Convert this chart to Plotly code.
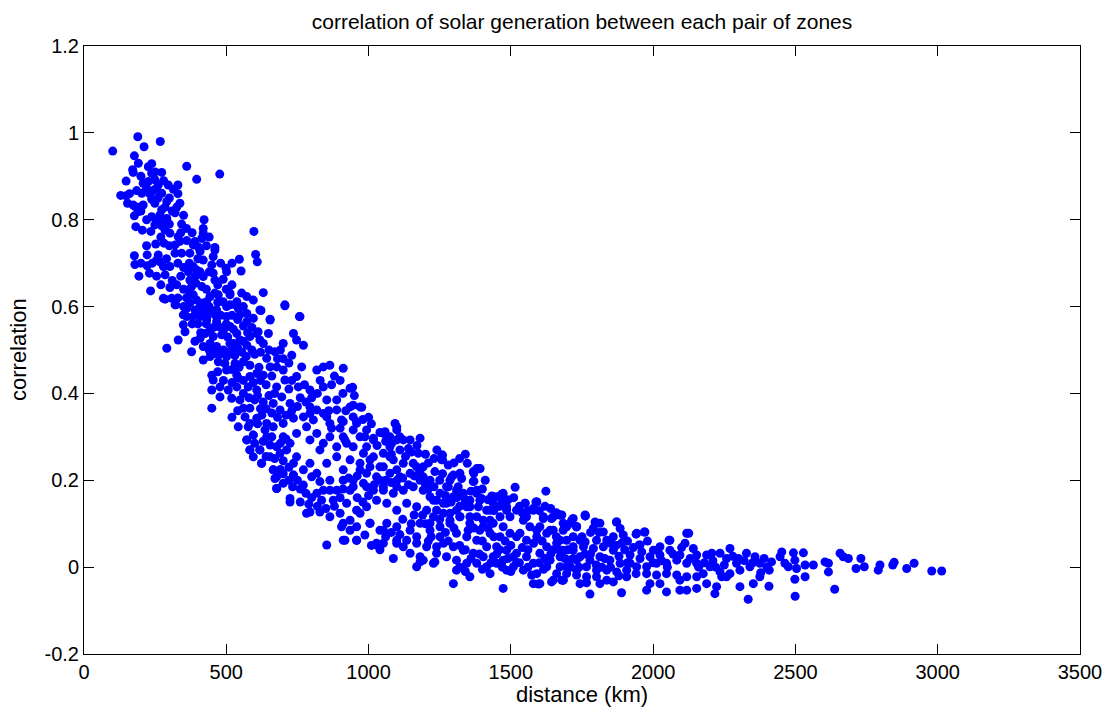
import plotly.graph_objects as go

# ---- data (distance km, correlation) ----
pairs_top_left = [(101,0.958),(189,0.991),(211,0.968),(268,0.980),(177,0.947),(191,0.930),(171,0.915),(173,0.909),(238,0.929),(226,0.922),(361,0.923),(477,0.905),(396,0.893),(148,0.889),(238,0.907),(273,0.909),(208,0.884),(226,0.888),(249,0.892),(261,0.880),(296,0.880),(314,0.870),(185,0.867),(203,0.861),(220,0.872),(244,0.867),(273,0.861),(129,0.856),(148,0.855),(153,0.838),(173,0.834),(197,0.829),(208,0.834),(238,0.847),(249,0.838),(291,0.842),(285,0.829),(273,0.823),(326,0.829),(337,0.838),(320,0.816),(177,0.809),(191,0.819),(238,0.807),(255,0.800),(267,0.811),(291,0.803),(249,0.788),(273,0.786),(343,0.790),(422,0.800),(419,0.780),(419,0.769),(414,0.757),(182,0.784),(205,0.776),(235,0.773),(285,0.776),(302,0.769),(331,0.761),(361,0.752),(384,0.742),(402,0.737),(252,0.744),(281,0.746),(320,0.742),(337,0.750),(460,0.736)]

pairs_top_left_extra = [(230,0.860),(260,0.850),(300,0.850),(310,0.820),(280,0.800),(300,0.790),(350,0.810),(360,0.780),(380,0.770),(340,0.770),(300,0.740),(270,0.760),(220,0.740),(200,0.700),(240,0.700),(290,0.710),(330,0.700),(350,0.690),(340,0.670),(310,0.660),(270,0.650),(350,0.640),(330,0.620),(360,0.620),(350,0.600),(380,0.560),(400,0.560),(410,0.540),(390,0.520),(420,0.590),(440,0.600),(470,0.610),(480,0.580),(500,0.560),(520,0.580),(540,0.570),(430,0.640),(470,0.650),(500,0.640),(520,0.650),(440,0.680),(480,0.700),(520,0.700),(430,0.740),(440,0.760),(400,0.710),(370,0.700),(390,0.750),(200,0.820),(220,0.800),(180,0.830),(160,0.860),(200,0.900),(250,0.910),(280,0.890),(330,0.860),(330,0.880),(250,0.870)]

pairs_upper = [(177,0.717),(179,0.697),(193,0.670),(222,0.719),(222,0.694),(230,0.677),(261,0.719),(267,0.703),(255,0.707),(279,0.692),(302,0.692),(255,0.670),(285,0.673),(234,0.636),(302,0.644),(326,0.650),(285,0.617),(308,0.619),(323,0.604),(320,0.723),(343,0.723),(372,0.723),(408,0.727),(419,0.707),(454,0.715),(460,0.730),(449,0.696),(454,0.677),(460,0.661),(489,0.663),(499,0.688),(501,0.680),(546,0.709),(552,0.682),(597,0.773),(603,0.720),(609,0.703),(367,0.680),(384,0.692),(396,0.684),(408,0.680),(419,0.669),(390,0.669),(372,0.661),(378,0.646),(393,0.654),(414,0.646),(367,0.638),(384,0.627),(396,0.615),(372,0.608),(361,0.596),(361,0.577),(390,0.592),(408,0.600),(431,0.611),(443,0.623),(460,0.631),(472,0.627),(513,0.631),(489,0.611),(513,0.604),(537,0.611),(554,0.631),(572,0.623),(595,0.615),(560,0.600),(542,0.596),(572,0.584),(443,0.592),(460,0.581),(431,0.577),(408,0.577),(630,0.632),(622,0.591),(654,0.571),(706,0.602),(757,0.577),(279,0.619),(320,0.604),(349,0.581),(384,0.577)]

pairs_mid_left = [(419,0.608),(443,0.623),(466,0.592),(513,0.627),(501,0.600),(531,0.604),(396,0.584),(431,0.569),(466,0.565),(501,0.577),(513,0.554),(537,0.538),(548,0.523),(525,0.515),(419,0.508),(443,0.515),(466,0.508),(490,0.500),(291,0.504),(331,0.523),(349,0.558),(355,0.542),(378,0.496),(408,0.527),(425,0.538),(443,0.546),(454,0.531),(472,0.554),(484,0.535),(419,0.477),(443,0.485),(460,0.492),(472,0.473),(495,0.469),(501,0.485),(519,0.500),(513,0.515),(531,0.469),(501,0.454),(449,0.442),(454,0.431),(449,0.408),(478,0.415),(478,0.392),(507,0.408),(519,0.389),(537,0.415),(542,0.435),(537,0.442),(449,0.366),(548,0.385),(560,0.366)]

pairs_mid_extra = [(430,0.560),(455,0.552),(490,0.545),(505,0.530),(525,0.548),(560,0.555),(575,0.540),(590,0.552),(440,0.500),(475,0.490),(505,0.495),(530,0.487),(555,0.495),(570,0.485),(545,0.460),(520,0.455),(470,0.450),(490,0.430),(520,0.425),(560,0.430),(595,0.425),(620,0.430),(615,0.460),(640,0.420),(660,0.440),(680,0.480),(700,0.480),(720,0.470),(690,0.500),(650,0.500),(620,0.495),(600,0.490),(590,0.500),(560,0.520),(540,0.505),(610,0.395),(630,0.380),(650,0.395),(670,0.400),(660,0.355),(640,0.365),(620,0.365),(600,0.385),(580,0.390),(560,0.400),(540,0.360),(520,0.345),(610,0.330),(625,0.350),(680,0.345),(710,0.350),(730,0.360),(750,0.370),(760,0.390),(720,0.410),(730,0.430),(775,0.420),(780,0.380),(800,0.390),(820,0.400),(830,0.430),(870,0.420),(880,0.440),(900,0.430),(860,0.360),(870,0.320),(900,0.320),(920,0.360),(910,0.400),(950,0.395),(980,0.340),(1000,0.345),(1010,0.330),(1040,0.310),(1030,0.280),(1060,0.290),(1080,0.260),(1110,0.270),(1130,0.255),(1150,0.265),(1170,0.280),(1200,0.260),(1210,0.240),(1230,0.250),(1240,0.270),(1280,0.235),(1300,0.240),(1320,0.250),(1340,0.260)]

pairs_mid = [(560,0.473),(583,0.465),(583,0.439),(577,0.415),(607,0.446),(607,0.408),(630,0.442),(654,0.461),(642,0.481),(572,0.511),(583,0.531),(607,0.538),(618,0.523),(548,0.581),(572,0.565),(595,0.573),(612,0.542),(618,0.592),(654,0.569),(648,0.538),(630,0.515),(671,0.496),(700,0.515),(730,0.488),(736,0.538),(747,0.523),(771,0.511),(706,0.604),(759,0.577),(677,0.461),(700,0.454),(706,0.431),(677,0.415),(695,0.392),(665,0.377),(689,0.362),(724,0.377),(747,0.439),(753,0.415),(765,0.461),(583,0.366),(566,0.346),(583,0.331),(607,0.343),(642,0.331),(636,0.316),(665,0.323),(700,0.331),(736,0.343),(771,0.346),(794,0.354),(782,0.323),(747,0.308),(542,0.323),(577,0.323),(595,0.304),(572,0.293),(583,0.270),(595,0.254),(618,0.270),(624,0.239),(642,0.300),(654,0.281),(677,0.277),(700,0.300),(689,0.262),(712,0.270),(724,0.285),(747,0.254),(736,0.239),(665,0.224),(671,0.204),(677,0.181),(700,0.193),(736,0.212),(771,0.224),(794,0.408),(818,0.454),(841,0.461),(864,0.465),(841,0.415),(853,0.385),(888,0.385),(911,0.458),(935,0.412),(794,0.369),(818,0.362),(806,0.339),(841,0.354),(853,0.346),(864,0.331),(888,0.362),(905,0.339),(935,0.369),(946,0.373),(958,0.335),(970,0.369),(794,0.293),(818,0.308),(841,0.285),(829,0.270),(864,0.300),(888,0.277),(911,0.300),(923,0.285),(946,0.316),(970,0.300),(993,0.316),(993,0.277),(1017,0.293),(1052,0.308),(1075,0.277),(1099,0.323),(1099,0.293),(1122,0.293),(794,0.239),(818,0.216),(853,0.239),(864,0.200),(888,0.254),(911,0.224),(935,0.247),(946,0.200),(970,0.239),(993,0.216),(1005,0.247),(1028,0.208),(1052,0.231),(1075,0.254),(1099,0.224),(1122,0.239),(841,0.177),(888,0.177),(935,0.177),(993,0.185),(1052,0.177),(1099,0.185)]

pairs_band_extra = [(600,0.285),(630,0.290),(660,0.300),(690,0.285),(710,0.295),(640,0.255),(670,0.250),(700,0.245),(720,0.230),(690,0.225),(700,0.215),(720,0.200),(750,0.200),(760,0.180),(780,0.170),(800,0.160),(760,0.150),(790,0.145),(820,0.140),(850,0.135),(880,0.140),(900,0.160),(910,0.180),(930,0.205),(960,0.210),(960,0.160),(980,0.150),(1000,0.165),(1020,0.190),(1040,0.200),(1060,0.200),(1080,0.195),(1100,0.200),(1120,0.205),(1140,0.190),(1160,0.210),(1180,0.220),(1200,0.190),(1210,0.180),(1230,0.185),(1250,0.200),(1260,0.215),(1270,0.165),(1290,0.150),(1310,0.160),(1320,0.140),(1340,0.150),(1360,0.175),(1400,0.180),(1410,0.200),(1420,0.155),(1440,0.130),(1460,0.140),(1470,0.150),(1490,0.155),(1510,0.160),(1530,0.140),(1540,0.125),(1560,0.130),(1600,0.130),(1620,0.140),(1640,0.135),(1660,0.125)]

pairs_low_extra = [(1010,0.050),(1040,0.040),(1060,0.070),(1080,0.080),(1110,0.075),(1120,0.110),(1150,0.100),(1160,0.120),(1190,0.120),(1200,0.100),(1210,0.060),(1220,0.070),(1250,0.110),(1270,0.080),(1280,0.060),(1300,0.090),(1320,0.050),(1340,0.040),(1350,0.085),(1370,0.090),(1400,0.060),(1420,0.090),(1440,0.070),(1460,0.040),(1480,0.060),(1500,0.050),(1520,0.070),(1530,0.010),(1560,0.040),(1580,0.055),(1610,0.060),(1620,0.020),(1650,0.040),(1660,0.070),(1700,0.040),(1720,0.020),(1750,0.070),(1780,0.080),(1790,0.090),(1810,0.080),(1830,0.020),(1850,0.055),(1870,0.050),(1880,0.025),(1900,0.040),(1910,0.060),(1930,0.045),(1960,0.035),(1980,0.060),(2000,0.010),(2030,0.015),(2050,0.000),(2070,0.030),(2100,0.045),(2130,0.020),(2160,0.000),(2180,0.010),(2210,0.015),(2220,0.000),(2250,0.005),(2280,0.025),(2300,0.020),(2320,0.015),(2350,0.010),(2390,0.020),(2400,0.000),(1320,0.000),(1340,-0.010),(1360,0.020),(1390,0.030),(1400,-0.005),(1430,0.010),(1450,0.030),(1470,0.000),(1490,0.020),(1500,-0.010),(1520,0.010),(1540,0.045),(1560,0.000),(1600,0.010),(1615,-0.005),(1640,0.030),(1670,0.040),(1690,0.020),(1710,0.000),(1740,0.000),(1760,0.030),(1780,0.030),(1800,0.005),(1820,0.000),(1850,0.000),(1880,-0.020),(1910,0.010),(1940,-0.015)]

pairs_center = [(1181,0.297),(1175,0.262),(1093,0.331),(1099,0.316),(1110,0.300),(1058,0.312),(1146,0.293),(1140,0.273),(1260,0.258),(1260,0.247),(1233,0.220),(1216,0.200),(1192,0.208),(1169,0.231),(1347,0.239),(1380,0.227),(1370,0.216),(1368,0.197),(1327,0.204),(1315,0.185),(1292,0.208),(1280,0.185),(1298,0.162),(1333,0.170),(1356,0.154),(1380,0.170),(1397,0.158),(1386,0.139),(1345,0.139),(1309,0.131),(1274,0.147),(1251,0.170),(1239,0.154),(1216,0.162),(1204,0.131),(1228,0.116),(1263,0.124),(1286,0.108),(1321,0.116),(1356,0.116),(1380,0.116),(1415,0.131),(1438,0.147),(1450,0.162),(1473,0.170),(1485,0.139),(1462,0.116),(1427,0.108),(1403,0.093),(1497,0.116),(1520,0.131),(1550,0.147),(1579,0.131),(1591,0.150),(1555,0.116),(1515,0.184),(1623,0.175),(1614,0.116),(1643,0.112),(1673,0.120),(1684,0.101),(1708,0.101),(1731,0.093),(1761,0.120),(1684,0.085),(1638,0.085),(1591,0.085),(944,0.414),(976,0.368),(946,0.346),(911,0.335),(958,0.331),(1017,0.297),(987,0.300),(1075,0.300),(1081,0.285),(917,0.293),(946,0.277),(982,0.262),(1017,0.254),(1052,0.262),(1087,0.247),(1157,0.239),(1192,0.231),(970,0.224),(1005,0.231),(1040,0.231),(1075,0.216),(1110,0.208),(1146,0.216),(1181,0.200),(911,0.200),(946,0.185),(982,0.193),(1017,0.177),(1052,0.185),(1087,0.170),(1122,0.177),(1157,0.185),(1192,0.177),(923,0.147),(958,0.131),(993,0.139),(1028,0.154),(1064,0.147),(1099,0.131),(1134,0.147),(1169,0.139),(911,0.101),(958,0.093),(1005,0.101),(1052,0.085),(1099,0.093),(1146,0.085),(1181,0.101),(911,0.062),(958,0.062),(1028,0.055),(1099,0.062),(1169,0.055)]

pairs_lower_edge = [(572,0.293),(595,0.304),(583,0.270),(618,0.270),(624,0.239),(654,0.254),(665,0.224),(677,0.208),(677,0.181),(724,0.158),(724,0.150),(733,0.185),(736,0.212),(771,0.189),(800,0.208),(829,0.197),(818,0.170),(835,0.154),(864,0.177),(876,0.154),(900,0.124),(905,0.093),(935,0.085),(782,0.124),(794,0.127),(829,0.127),(864,0.116),(853,0.051),(917,0.062),(958,0.062),(987,0.074),(1028,0.051),(1052,0.055),(1087,0.020),(1169,0.001),(1181,0.012),(1233,0.012),(935,0.108),(970,0.124),(1005,0.101),(1040,0.085),(1064,0.101),(1099,0.055),(1122,0.047),(1146,0.032),(1134,0.062),(1169,0.070),(1204,0.047),(1216,0.085),(1239,0.047),(1251,0.070)]

pairs_right_center = [(1550,0.147),(1579,0.135),(1591,0.150),(1614,0.112),(1649,0.116),(1679,0.120),(1714,0.108),(1731,0.093),(1743,0.062),(1690,0.093),(1649,0.085),(1626,0.078),(1602,0.093),(1567,0.093),(1544,0.108),(1532,0.078),(1555,0.062),(1591,0.070),(1626,0.047),(1661,0.055),(1696,0.062),(1719,0.039),(1673,0.024),(1638,0.016),(1602,0.032),(1579,0.009),(1555,0.024),(1520,0.032),(1509,0.001),(1544,-0.007),(1591,-0.015),(1626,0.001),(1661,-0.015),(1696,0.001),(1731,0.016),(1684,-0.030),(1649,-0.030),(1579,-0.038),(1602,-0.038),(1473,-0.049),(1573,-0.018),(1257,0.258),(1257,0.247),(1368,0.220),(1386,0.227),(1370,0.198),(1298,0.212),(1321,0.216),(1286,0.200),(1274,0.185),(1309,0.177),(1333,0.162),(1356,0.139),(1380,0.177),(1391,0.154),(1438,0.162),(1468,0.167),(1450,0.139),(1485,0.131),(1427,0.131),(1403,0.108),(1438,0.101),(1473,0.093),(1497,0.078),(1462,0.070),(1427,0.078),(1391,0.085),(1356,0.101),(1321,0.116),(1286,0.124),(1263,0.147),(1228,0.154),(1239,0.131),(1216,0.101),(1251,0.093),(1286,0.101),(1309,0.078),(1345,0.070),(1380,0.062),(1415,0.047),(1450,0.047),(1485,0.039),(1509,0.024),(1473,0.016),(1438,0.024),(1403,0.024),(1368,0.032),(1333,0.039),(1298,0.047),(1263,0.055),(1239,0.032),(1274,0.024),(1309,0.016),(1345,0.009),(1380,0.009),(1415,0.001),(1450,0.009),(1485,-0.007),(1309,-0.007),(1298,-0.038),(1427,-0.015),(1356,-0.022),(1228,0.009),(1192,0.016),(1181,0.024)]

pairs_far = [(1673,0.120),(1719,0.112),(1761,0.118),(1796,0.104),(1813,0.101),(1872,0.104),(1884,0.089),(1942,0.078),(1971,0.081),(1895,0.074),(1860,0.070),(1825,0.081),(1837,0.062),(1801,0.062),(1761,0.058),(1719,0.070),(1696,0.093),(1731,0.093),(1673,0.062),(1684,0.039),(1719,0.047),(1755,0.047),(1790,0.043),(1825,0.047),(1860,0.039),(1889,0.055),(1919,0.028),(1954,0.051),(2001,0.039),(2024,0.047),(2059,0.062),(2118,0.078),(2112,0.055),(2141,0.043),(2153,0.028),(2059,0.039),(2094,0.028),(2024,0.028),(1989,0.024),(1954,0.020),(1919,0.009),(1884,0.009),(1848,0.016),(1813,0.024),(1778,0.016),(1743,0.024),(1708,0.016),(1673,0.001),(1696,-0.015),(1731,-0.007),(1766,0.001),(1801,-0.007),(1837,-0.007),(1872,-0.011),(1907,-0.007),(1942,0.001),(1977,0.001),(2012,0.009),(2047,0.009),(2083,0.016),(2118,0.009),(2153,0.009),(2188,0.028),(2206,0.032),(2235,0.032),(2270,0.043),(2258,0.020),(2293,0.009),(2328,0.032),(2358,0.024),(2375,0.009),(2340,0.001),(2305,-0.007),(2270,-0.015),(2235,-0.011),(2200,0.001),(2176,-0.015),(2153,-0.022),(2118,-0.022),(2083,-0.018),(2047,-0.015),(2012,-0.018),(1977,-0.015),(1907,-0.022),(1837,-0.030),(1801,-0.022),(1766,-0.022),(1731,-0.018),(1684,-0.030),(1743,-0.038),(1813,-0.038),(1860,-0.034),(1989,-0.038),(2024,-0.038),(2094,-0.030),(2153,-0.049),(2188,-0.038),(2223,-0.045),(2258,-0.022),(2305,-0.045),(2352,-0.038),(2375,-0.022),(1778,-0.062),(1889,-0.059),(1977,-0.053),(2047,-0.057),(2094,-0.053),(2118,-0.053),(2217,-0.061),(2334,-0.074),(2241,-0.022),(1392,0.227),(1468,0.168),(1433,0.164),(1588,0.150),(1762,0.118),(1871,0.104),(1969,0.081),(1940,0.076),(2125,0.078),(2056,0.062),(1951,0.051),(1597,-0.039),(1643,-0.034),(1679,-0.030),(1766,-0.036)]

pairs_tail = [(2452,0.035),(2446,0.024),(2493,0.033),(2528,0.033),(2498,0.016),(2463,0.009),(2475,0.001),(2504,-0.003),(2534,0.005),(2563,0.005),(2604,0.012),(2616,0.009),(2616,-0.011),(2657,0.032),(2668,0.024),(2686,0.020),(2730,0.020),(2713,-0.003),(2742,0.001),(2791,-0.007),(2797,0.005),(2842,0.005),(2847,0.011),(2891,-0.003),(2917,0.009),(2979,-0.009),(3014,-0.009),(2498,-0.028),(2534,-0.022),(2499,-0.067),(2407,-0.044),(2408,-0.007),(2416,0.012),(2378,-0.013),(2638,-0.051)]

x_tickvals = [0, 500, 1000, 1500, 2000, 2500, 3000, 3500]
x_ticktext = ["0", "500", "1000", "1500", "2000", "2500", "3000", "3500"]
y_tickvals = [-0.2, 0, 0.2, 0.4, 0.6, 0.8, 1.0, 1.2]
y_ticktext = ["-0.2", "0", "0.2", "0.4", "0.6", "0.8", "1", "1.2"]

title_text = "correlation of solar generation between each pair of zones"
x_label = "distance (km)"
y_label = "correlation"

all_pairs = (pairs_top_left + pairs_top_left_extra + pairs_upper + pairs_mid_left
             + pairs_mid_extra + pairs_mid + pairs_band_extra + pairs_low_extra
             + pairs_center + pairs_lower_edge + pairs_right_center + pairs_far + pairs_tail)
xs = [p[0] for p in all_pairs]
ys = [p[1] for p in all_pairs]

FONT = "Liberation Sans, Arial, Helvetica, sans-serif"

fig = go.Figure()
fig.add_trace(go.Scatter(
    x=xs, y=ys, mode="markers",
    marker=dict(color="#0000FF", size=9, line=dict(width=0)),
    showlegend=False,
))

axis_common = dict(
    showgrid=False, zeroline=False, showline=True, linecolor="black", linewidth=1,
    mirror="ticks", ticks="inside", ticklen=10, tickcolor="black", tickwidth=1,
    tickfont=dict(family=FONT, size=20, color="black"), automargin=False,
)

fig.update_layout(
    width=1104, height=708, autosize=False,
    margin=dict(l=84, r=24, t=46, b=54, autoexpand=False),
    paper_bgcolor="white", plot_bgcolor="white",
    title=dict(text=title_text, x=0.5, xref="paper", y=1 - 22 / 708, yref="container",
               yanchor="middle", xanchor="center",
               font=dict(family=FONT, size=21, color="black")),
    xaxis=dict(range=[0, 3500], tickmode="array", tickvals=x_tickvals, ticktext=x_ticktext,
               **axis_common),
    yaxis=dict(range=[-0.2, 1.2], tickmode="array", tickvals=y_tickvals, ticktext=y_ticktext,
               **axis_common),
    annotations=[
        dict(text=x_label, xref="paper", yref="paper", x=0.5, y=-40 / 608,
             xanchor="center", yanchor="middle", showarrow=False,
             font=dict(family=FONT, size=22, color="black")),
        dict(text=y_label, xref="paper", yref="paper", x=(18 - 84) / 996, y=0.5,
             xanchor="center", yanchor="middle", textangle=-90, showarrow=False,
             font=dict(family=FONT, size=22, color="black")),
    ],
)

fig.write_html("out.html", config={"responsive": False})
